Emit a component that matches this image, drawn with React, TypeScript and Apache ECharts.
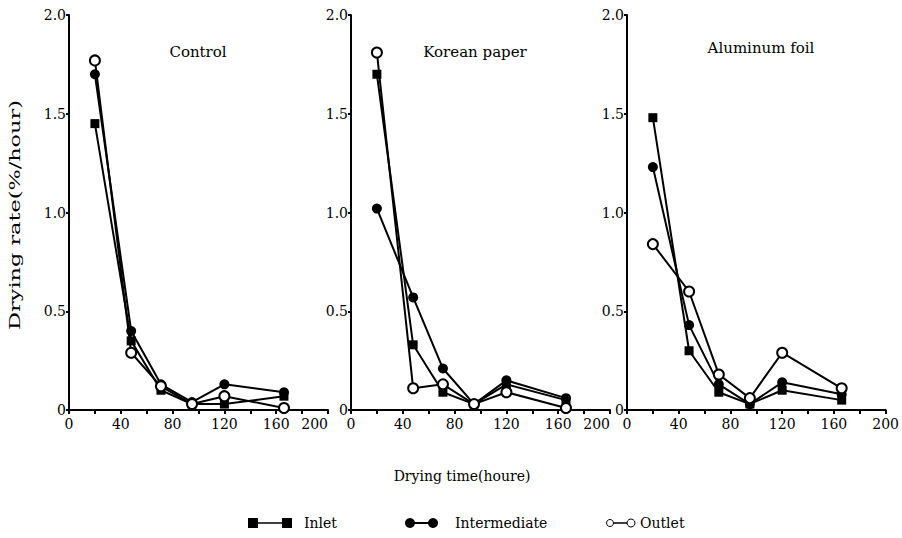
import React, { useEffect, useRef } from "react";
import * as echarts from "echarts";

const times = [20, 48, 71, 95, 120, 166];
const panels = ["Control", "Korean paper", "Aluminum foil"];
const seriesNames = ["Inlet", "Intermediate", "Outlet"];

const controlInlet = [1.45, 0.35, 0.10, 0.03, 0.03, 0.07];
const controlIntermediate = [1.70, 0.40, 0.13, 0.04, 0.13, 0.09];
const controlOutlet = [1.77, 0.29, 0.12, 0.03, 0.07, 0.01];

const koreanInlet = [1.70, 0.33, 0.09, 0.03, 0.13, 0.05];
const koreanIntermediate = [1.02, 0.57, 0.21, 0.03, 0.15, 0.06];
const koreanOutlet = [1.81, 0.11, 0.13, 0.03, 0.09, 0.01];

const aluminumInlet = [1.48, 0.30, 0.09, 0.03, 0.10, 0.05];
const aluminumIntermediate = [1.23, 0.43, 0.13, 0.03, 0.14, 0.08];
const aluminumOutlet = [0.84, 0.60, 0.18, 0.06, 0.29, 0.11];

const yTicks = [0, 0.5, 1.0, 1.5, 2.0];
const xTicks = [0, 40, 80, 120, 160, 200];

const panelData = [
  [controlInlet, controlIntermediate, controlOutlet],
  [koreanInlet, koreanIntermediate, koreanOutlet],
  [aluminumInlet, aluminumIntermediate, aluminumOutlet],
];

const FONT = "DejaVu Serif";

export default function App() {
  const ref = useRef<HTMLDivElement>(null);
  useEffect(() => {
    if (!ref.current) return;
    const chart = echarts.init(ref.current, null, { renderer: "svg" });
    const grids = [
      { left: 69, top: 15, width: 259, height: 395 },
      { left: 351, top: 15, width: 259, height: 395 },
      { left: 627, top: 15, width: 260, height: 395 },
    ];
    const xAxes = grids.map((_, i) => ({
      type: "value",
      gridIndex: i,
      min: 0,
      max: 200,
      interval: 20,
      axisLine: { show: true, lineStyle: { color: "#000", width: 2 } },
      axisTick: { show: true, inside: false, length: 4, lineStyle: { color: "#000", width: 2 } },
      axisLabel: {
        color: "#000",
        fontFamily: FONT,
        fontSize: 14,
        margin: 7,
        alignMaxLabel: i < 2 ? "right" : "center",
        formatter: (v: number) => (xTicks.includes(v) ? String(v) : ""),
      },
      splitLine: { show: false },
    }));
    const yAxes = grids.map((_, i) => ({
      type: "value",
      gridIndex: i,
      min: 0,
      max: 2,
      interval: 0.5,
      axisLine: { show: true, lineStyle: { color: "#000", width: 2 } },
      axisTick: { show: true, inside: false, length: 3, lineStyle: { color: "#000", width: 2 } },
      axisLabel: {
        color: "#000",
        fontFamily: FONT,
        fontSize: 14,
        margin: 3,
        formatter: (v: number) => (yTicks.includes(v) ? (v === 0 ? "0" : v.toFixed(1)) : ""),
      },
      splitLine: { show: false },
    }));
    const series: any[] = [];
    panelData.forEach((group, gi) => {
      group.forEach((vals, si) => {
        const isOutlet = si === 2;
        series.push({
          type: "line",
          name: seriesNames[si],
          xAxisIndex: gi,
          yAxisIndex: gi,
          data: times.map((t, k) => [t, vals[k]]),
          symbol: si === 0 ? "rect" : "circle",
          symbolSize: si === 0 ? 9 : 10,
          lineStyle: { color: "#000", width: 2 },
          itemStyle: {
            color: isOutlet ? "#fff" : "#000",
            borderColor: "#000",
            borderWidth: isOutlet ? 2 : 0,
          },
          z: isOutlet ? 4 : 3,
        });
      });
    });
    const titlePos = [
      [198, 52],
      [475, 52],
      [761, 48],
    ];
    const txt = (size: number, extra: any) => ({
      fill: "#000",
      fontFamily: FONT,
      fontSize: size,
      verticalAlign: "middle",
      ...extra,
    });
    const graphic: any[] = panels.map((p, i) => ({
      type: "text",
      x: titlePos[i][0],
      y: titlePos[i][1],
      style: txt(15, { text: p, align: "center" }),
    }));
    graphic.push({
      type: "text",
      x: 15,
      y: 215,
      rotation: Math.PI / 2,
      scaleX: 1.6,
      style: txt(14, { text: "Drying rate(%/hour)", align: "center" }),
    });
    graphic.push({
      type: "text",
      x: 462,
      y: 476,
      style: txt(14, { text: "Drying time(houre)", align: "center" }),
    });
    // legend
    const ly = 523;
    graphic.push(
      { type: "rect", shape: { x: 248, y: ly - 5, width: 10, height: 10 }, style: { fill: "#000" } },
      { type: "line", shape: { x1: 258, y1: ly, x2: 282, y2: ly }, style: { stroke: "#000", lineWidth: 1.5 } },
      { type: "rect", shape: { x: 282, y: ly - 5, width: 10, height: 10 }, style: { fill: "#000" } },
      { type: "text", x: 304, y: ly, style: txt(14, { text: seriesNames[0] }) },
      { type: "circle", shape: { cx: 410, cy: ly, r: 5 }, style: { fill: "#000" } },
      { type: "line", shape: { x1: 410, y1: ly, x2: 433, y2: ly }, style: { stroke: "#000", lineWidth: 2 } },
      { type: "circle", shape: { cx: 433, cy: ly, r: 5 }, style: { fill: "#000" } },
      { type: "text", x: 455, y: ly, style: txt(14, { text: seriesNames[1] }) },
      { type: "line", shape: { x1: 612, y1: ly, x2: 628, y2: ly }, style: { stroke: "#000", lineWidth: 1.5 } },
      { type: "circle", shape: { cx: 610, cy: ly, r: 3.5 }, style: { fill: "#fff", stroke: "#000", lineWidth: 1 } },
      { type: "circle", shape: { cx: 631, cy: ly, r: 4 }, style: { fill: "#fff", stroke: "#000", lineWidth: 1 } },
      { type: "text", x: 640, y: ly, style: txt(14, { text: seriesNames[2] }) }
    );
    chart.setOption({
      animation: false,
      backgroundColor: "#fff",
      textStyle: { fontFamily: FONT },
      grid: grids,
      xAxis: xAxes,
      yAxis: yAxes,
      series,
      graphic,
    });
    return () => chart.dispose();
  }, []);
  return (
    <div
      ref={ref}
      style={{ position: "absolute", left: 0, top: 0, width: 902, height: 538, background: "#fff" }}
    />
  );
}
